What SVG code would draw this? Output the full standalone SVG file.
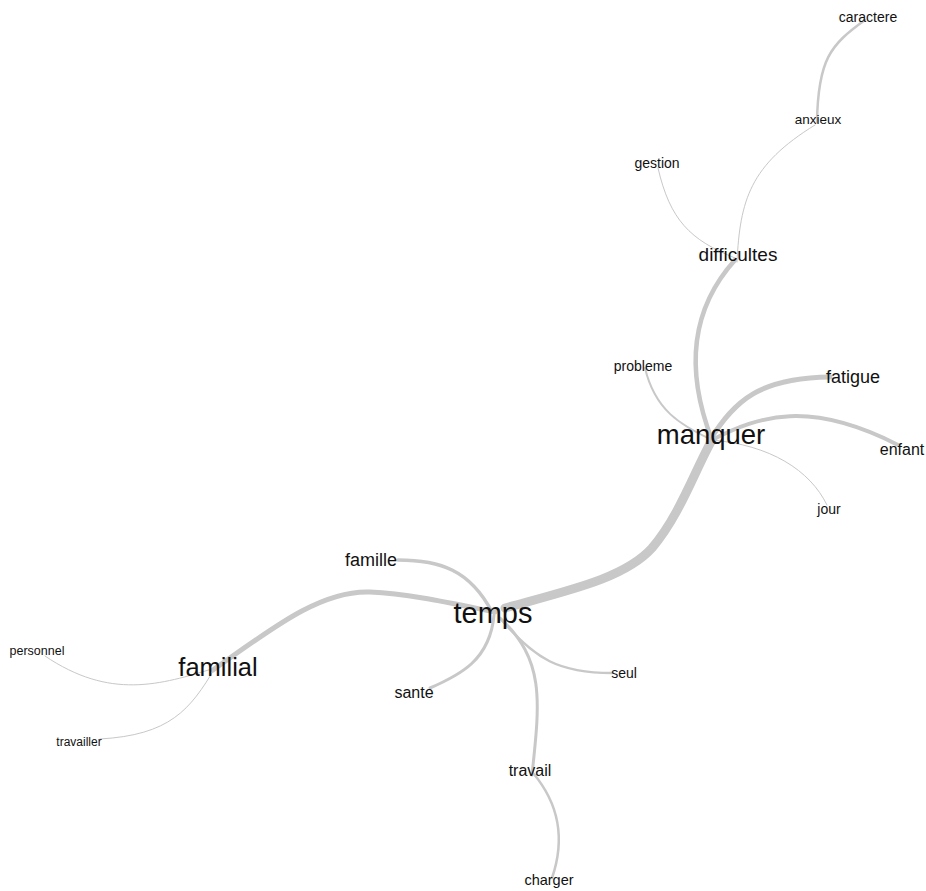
<svg xmlns="http://www.w3.org/2000/svg" width="926" height="891" viewBox="0 0 926 891">
<style>
.e{fill:none;stroke:#c8c8c8;stroke-linecap:round}
.t{font-family:"Liberation Sans",Arial,sans-serif;fill:#111;text-anchor:middle}
</style>
<rect width="926" height="891" fill="#fff"/>
<g id="edges">
<path class="e" stroke-width="9" d="M 505 608 C 570 590, 625 578, 652 548 C 680 515, 695 470, 712 440"/>
<path class="e" stroke-width="4.5" d="M 712 440 C 685 370, 690 310, 735 260"/>
<path class="e" stroke-width="1" d="M 737 262 C 740 200, 750 165, 815 125"/>
<path class="e" stroke-width="1" d="M 735 258 C 690 240, 670 220, 658 168"/>
<path class="e" stroke-width="2.5" d="M 817 122 C 818 60, 830 45, 865 20"/>
<path class="e" stroke-width="2" d="M 712 440 C 680 425, 655 410, 645 368"/>
<path class="e" stroke-width="5" d="M 710 440 C 735 400, 760 378, 830 377"/>
<path class="e" stroke-width="4" d="M 712 440 C 760 415, 810 400, 898 445"/>
<path class="e" stroke-width="1" d="M 712 440 C 770 445, 810 470, 827 505"/>
<path class="e" stroke-width="3.5" d="M 492 612 C 470 570, 440 560, 398 560"/>
<path class="e" stroke-width="5" d="M 213 670 C 270 630, 320 590, 370 592 C 410 594, 450 603, 495 612"/>
<path class="e" stroke-width="1" d="M 215 668 C 160 685, 110 700, 45 656"/>
<path class="e" stroke-width="1" d="M 215 668 C 190 710, 170 735, 100 739"/>
<path class="e" stroke-width="3" d="M 494 615 C 490 660, 460 675, 430 688"/>
<path class="e" stroke-width="2.5" d="M 500 618 C 535 660, 560 673, 612 673"/>
<path class="e" stroke-width="3" d="M 500 618 C 545 660, 540 700, 532 775"/>
<path class="e" stroke-width="2.5" d="M 533 773 C 560 805, 565 840, 552 878"/>
</g>
<g id="temps"><text class="t" x="493" y="623" font-size="29">temps</text></g>
<g id="manquer"><text class="t" x="711" y="444" font-size="27.5">manquer</text></g>
<g id="familial"><text class="t" x="218" y="676" font-size="25.5">familial</text></g>
<g id="difficultes"><text class="t" x="738" y="261" font-size="19">difficultes</text></g>
<g id="anxieux"><text class="t" x="818" y="124" font-size="13.5">anxieux</text></g>
<g id="caractere"><text class="t" x="868" y="22" font-size="14">caractere</text></g>
<g id="gestion"><text class="t" x="657" y="168" font-size="14">gestion</text></g>
<g id="probleme"><text class="t" x="643" y="371" font-size="14">probleme</text></g>
<g id="fatigue"><text class="t" x="853" y="383" font-size="18">fatigue</text></g>
<g id="enfant"><text class="t" x="902" y="455" font-size="16">enfant</text></g>
<g id="jour"><text class="t" x="829" y="514" font-size="14">jour</text></g>
<g id="famille"><text class="t" x="371" y="566" font-size="18">famille</text></g>
<g id="sante"><text class="t" x="414" y="698" font-size="16">sante</text></g>
<g id="seul"><text class="t" x="624" y="678" font-size="14">seul</text></g>
<g id="personnel"><text class="t" x="37" y="655" font-size="12.5">personnel</text></g>
<g id="travailler"><text class="t" x="79" y="746" font-size="12">travailler</text></g>
<g id="travail"><text class="t" x="530" y="776" font-size="16">travail</text></g>
<g id="charger"><text class="t" x="549" y="885" font-size="14.5">charger</text></g>
</svg>
